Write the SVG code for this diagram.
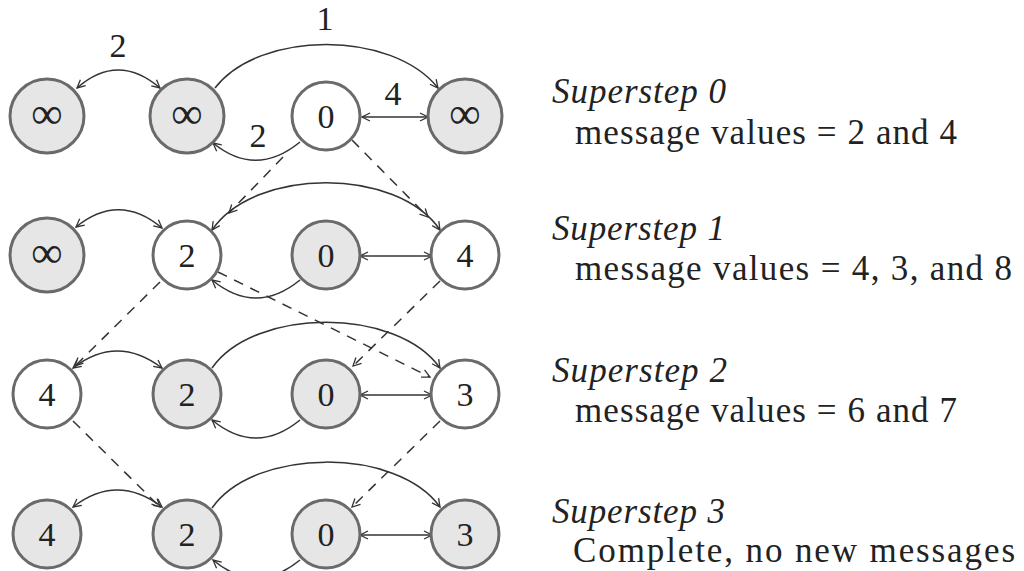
<svg xmlns="http://www.w3.org/2000/svg" width="1024" height="571" viewBox="0 0 1024 571">
<defs>
<marker id="arr" viewBox="0 0 10 10" refX="9" refY="5" markerWidth="10" markerHeight="10" markerUnits="userSpaceOnUse" orient="auto-start-reverse">
<path d="M1,1 L9,5 L1,9" fill="none" stroke="#333" stroke-width="1.3"/>
</marker>
<style>
.n circle{stroke:#6a6a6a;stroke-width:3}
.g circle{fill:#e6e6e6}
.w circle{fill:#fff}
.n text{font-family:"Liberation Serif",serif;font-size:34px;fill:#222;text-anchor:middle}
.inf text{font-size:44px}
.e{fill:none;stroke:#333;stroke-width:1.5}
.d{fill:none;stroke:#333;stroke-width:1.5;stroke-dasharray:10 8}
.lbl{font-family:"Liberation Serif",serif;font-size:34px;fill:#222;text-anchor:middle}
.t{font-family:"Liberation Serif",serif;font-size:35px;fill:#222}
.ti{font-style:italic}
</style>
</defs>

<g id="connectors">
<!-- row 0 -->
<path class="e" d="M77,88 Q118,52 160,88" marker-start="url(#arr)" marker-end="url(#arr)"/>
<path class="e" d="M215,88 C260,30 392,30 438,88" marker-end="url(#arr)"/>
<path class="e" d="M362,117 L428,117" marker-start="url(#arr)" marker-end="url(#arr)"/>
<path class="e" d="M300,142 Q256,178 213,143" marker-end="url(#arr)"/>
<path class="d" d="M283,157 L229,213" marker-end="url(#arr)"/>
<path class="d" d="M352,140 L428,217" marker-end="url(#arr)"/>
<!-- row 1 -->
<path class="e" d="M76,227 Q119,192 162,228" marker-start="url(#arr)" marker-end="url(#arr)"/>
<path class="e" d="M212,230 C255,167 397,167 440,230" marker-start="url(#arr)" marker-end="url(#arr)"/>
<path class="e" d="M360,256 L432,256" marker-start="url(#arr)" marker-end="url(#arr)"/>
<path class="e" d="M300,280 Q256,316 212,280" marker-end="url(#arr)"/>
<path class="d" d="M160,282 L75,366" marker-end="url(#arr)"/>
<path class="d" d="M218,272 L430,377" marker-end="url(#arr)"/>
<path class="d" d="M440,281 L353,366" marker-end="url(#arr)"/>
<!-- row 2 -->
<path class="e" d="M73,368 Q117,334 162,368" marker-start="url(#arr)" marker-end="url(#arr)"/>
<path class="e" d="M212,368 C255,307 397,307 440,368" marker-end="url(#arr)"/>
<path class="e" d="M360,395 L432,395" marker-start="url(#arr)" marker-end="url(#arr)"/>
<path class="e" d="M300,420 Q256,456 212,420" marker-end="url(#arr)"/>
<path class="d" d="M73,421 L160,507" marker-end="url(#arr)"/>
<path class="d" d="M440,421 L352,507" marker-end="url(#arr)"/>
<!-- row 3 -->
<path class="e" d="M73,507 Q117,473 162,507" marker-start="url(#arr)" marker-end="url(#arr)"/>
<path class="e" d="M212,508 C255,447 397,447 440,507" marker-end="url(#arr)"/>
<path class="e" d="M360,535 L432,535" marker-start="url(#arr)" marker-end="url(#arr)"/>
<path class="e" d="M300,560 Q256,596 213,560" marker-end="url(#arr)"/>
</g>

<g id="edge-labels">
<text class="lbl" x="118" y="57">2</text>
<text class="lbl" x="325" y="30">1</text>
<text class="lbl" x="393" y="105">4</text>
<text class="lbl" x="258" y="147">2</text>
</g>

<!-- row 0 -->
<g id="n0a" class="n g inf"><circle cx="47" cy="116" r="37"/><text x="47" y="128">∞</text></g>
<g id="n0b" class="n g inf"><circle cx="187" cy="116" r="37"/><text x="187" y="128">∞</text></g>
<g id="n0c" class="n w"><circle cx="326" cy="116" r="34"/><text x="326" y="128">0</text></g>
<g id="n0d" class="n g inf"><circle cx="465" cy="116" r="37"/><text x="465" y="128">∞</text></g>
<!-- row 1 -->
<g id="n1a" class="n g inf"><circle cx="47" cy="255" r="37"/><text x="47" y="267">∞</text></g>
<g id="n1b" class="n w"><circle cx="187" cy="255" r="34"/><text x="187" y="267">2</text></g>
<g id="n1c" class="n g"><circle cx="326" cy="255" r="34"/><text x="326" y="267">0</text></g>
<g id="n1d" class="n w"><circle cx="465" cy="255" r="34"/><text x="465" y="267">4</text></g>
<!-- row 2 -->
<g id="n2a" class="n w"><circle cx="47" cy="394" r="34"/><text x="47" y="406">4</text></g>
<g id="n2b" class="n g"><circle cx="187" cy="394" r="34"/><text x="187" y="406">2</text></g>
<g id="n2c" class="n g"><circle cx="326" cy="394" r="34"/><text x="326" y="406">0</text></g>
<g id="n2d" class="n w"><circle cx="465" cy="394" r="34"/><text x="465" y="406">3</text></g>
<!-- row 3 -->
<g id="n3a" class="n g"><circle cx="47" cy="534" r="34"/><text x="47" y="546">4</text></g>
<g id="n3b" class="n g"><circle cx="187" cy="534" r="34"/><text x="187" y="546">2</text></g>
<g id="n3c" class="n g"><circle cx="326" cy="534" r="34"/><text x="326" y="546">0</text></g>
<g id="n3d" class="n g"><circle cx="465" cy="534" r="34"/><text x="465" y="546">3</text></g>

<g id="captions">
<text class="t ti" x="552" y="103" textLength="174">Superstep 0</text>
<text class="t" x="575" y="144" textLength="382">message values = 2 and 4</text>
<text class="t ti" x="552" y="240" textLength="173">Superstep 1</text>
<text class="t" x="575" y="280" textLength="437">message values = 4, 3, and 8</text>
<text class="t ti" x="552" y="382" textLength="175">Superstep 2</text>
<text class="t" x="575" y="422" textLength="382">message values = 6 and 7</text>
<text class="t ti" x="552" y="523" textLength="173">Superstep 3</text>
<text class="t" x="573" y="562" textLength="442">Complete, no new messages</text>
</g>
</svg>
